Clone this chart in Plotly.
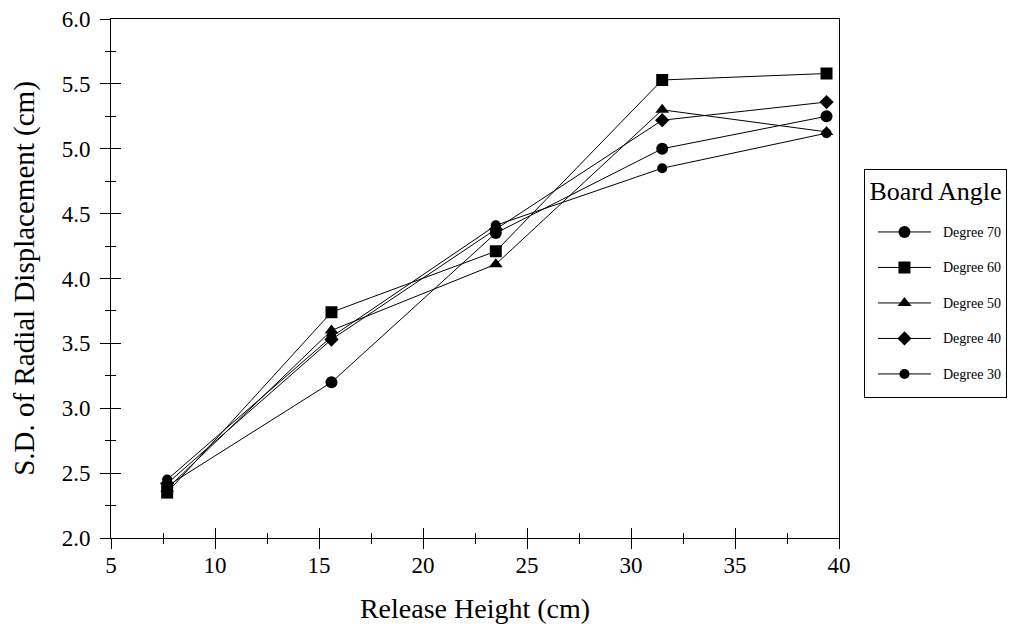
import plotly.graph_objects as go

release_height = [7.7, 15.6, 23.5, 31.5, 39.4]

degree_70 = [2.40, 3.20, 4.35, 5.00, 5.25]
degree_60 = [2.35, 3.74, 4.21, 5.53, 5.58]
degree_50 = [2.38, 3.60, 4.11, 5.30, 5.13]
degree_40 = [2.42, 3.53, 4.38, 5.22, 5.36]
degree_30 = [2.45, 3.55, 4.41, 4.85, 5.12]

series_names = ["Degree 70", "Degree 60", "Degree 50", "Degree 40", "Degree 30"]
series_values = [degree_70, degree_60, degree_50, degree_40, degree_30]
series_symbols = ["circle", "square", "triangle-up", "diamond", "circle"]
series_sizes = [12, 12, 12, 11, 10]

x_ticks = [5, 10, 15, 20, 25, 30, 35, 40]
y_ticks = [2.0, 2.5, 3.0, 3.5, 4.0, 4.5, 5.0, 5.5, 6.0]

FONT = "Liberation Serif"

fig = go.Figure()
for name, vals, sym, sz in zip(series_names, series_values, series_symbols, series_sizes):
    fig.add_trace(go.Scatter(
        x=release_height, y=vals, mode="lines+markers",
        name=f'<span style="font-size:14px;baseline-shift:5px">&nbsp;&nbsp;{name}</span>',
        line=dict(color="black", width=1),
        marker=dict(symbol=sym, size=sz, color="black"),
    ))

# empty helper trace so the overlay axes (inner half of the crossing ticks) render
fig.add_trace(go.Scatter(x=[], y=[], xaxis="x2", yaxis="y2", showlegend=False, hoverinfo="skip"))

axis_common = dict(showgrid=False, zeroline=False, color="black", automargin=False)

fig.update_layout(
    width=1013, height=619,
    margin=dict(l=103, r=182, t=11, b=89),
    plot_bgcolor="white", paper_bgcolor="white",
    font=dict(family=FONT, color="black", size=18),
    xaxis=dict(
        range=[5, 40], tickvals=x_ticks, ticktext=[str(v) for v in x_ticks],
        showline=True, linecolor="black", linewidth=1, mirror=True,
        ticks="outside", ticklen=10, tickcolor="black", tickwidth=1,
        minor=dict(dtick=2.5, ticks="outside", ticklen=5, tickcolor="black"),
        tickfont=dict(size=23, family=FONT), ticklabelstandoff=-4,
        ticklabeloverflow="allow",
        title=dict(text="Release Height (cm)", font=dict(size=28, family=FONT), standoff=21),
        **axis_common,
    ),
    yaxis=dict(
        range=[2, 6], tickvals=y_ticks, ticktext=[f"{v:.1f}" for v in y_ticks],
        showline=True, linecolor="black", linewidth=1, mirror=True,
        ticks="outside", ticklen=10, tickcolor="black", tickwidth=1,
        minor=dict(dtick=0.25, ticks="outside", ticklen=5, tickcolor="black"),
        tickfont=dict(size=23, family=FONT), ticklabelstandoff=5,
        ticklabeloverflow="allow",
        title=dict(text="S.D. of Radial Displacement (cm)", font=dict(size=29, family=FONT), standoff=24),
        **axis_common,
    ),
    xaxis2=dict(
        range=[5, 40], overlaying="x", anchor="y", side="bottom",
        tickvals=x_ticks, showticklabels=False, showline=False,
        ticks="inside", ticklen=10, tickcolor="black",
        minor=dict(dtick=2.5, ticks="inside", ticklen=5, tickcolor="black"),
        **axis_common,
    ),
    yaxis2=dict(
        range=[2, 6], overlaying="y", anchor="x", side="left",
        tickvals=y_ticks, showticklabels=False, showline=False,
        ticks="inside", ticklen=10, tickcolor="black",
        minor=dict(dtick=0.25, ticks="inside", ticklen=5, tickcolor="black"),
        **axis_common,
    ),
    legend=dict(
        x=1.0343, y=0.7106, xanchor="left", yanchor="top",
        bordercolor="black", borderwidth=1, bgcolor="white",
        font=dict(size=25, family=FONT),
        title=dict(text='<span style="font-size:26px;baseline-shift:9px">Board Angle</span>',
                   side="top center", font=dict(size=30, family=FONT)),
        itemwidth=53,
        indentation=8,
    ),
    showlegend=True,
)

fig.write_html("out.html")
